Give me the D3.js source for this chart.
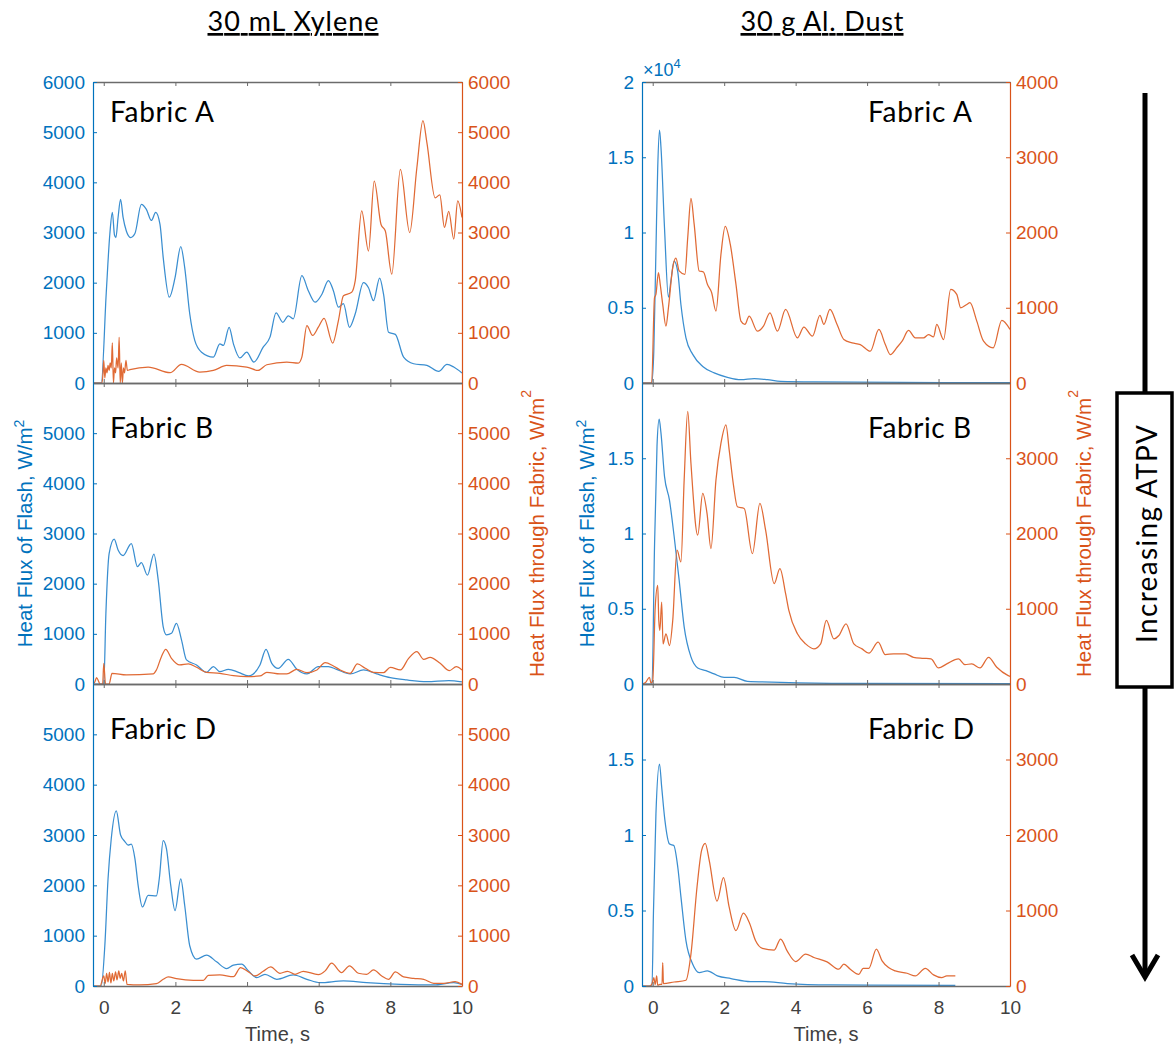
<!DOCTYPE html>
<html><head><meta charset="utf-8">
<script src="https://cdn.jsdelivr.net/npm/d3@7"></script>
<style>body{margin:0;background:#fff}</style>
</head><body>
<svg id="c" width="1175" height="1052" xmlns="http://www.w3.org/2000/svg"></svg>
<script>
// ---------------- DATA ([time s, W/m^2]) ----------------
const columnTitles = ["30 mL Xylene", "30 g Al. Dust"];
const fabricLabels = ["Fabric A", "Fabric B", "Fabric D"];
const timeTicks = [0, 2, 4, 6, 8, 10];
const xyleneTicksTop = [0, 1000, 2000, 3000, 4000, 5000, 6000];
const xyleneTicks = [0, 1000, 2000, 3000, 4000, 5000];
const dustFlashTicksTop = [0, 5000, 10000, 15000, 20000];
const dustFlashTicks = [0, 5000, 10000, 15000];
const dustFabricTicksTop = [0, 1000, 2000, 3000, 4000];
const dustFabricTicks = [0, 1000, 2000, 3000];

const xyleneA_flash = [[-0.3,0],[-0.07,0],[0.07,1800],[0.17,2970],[0.24,3400],[0.3,2950],[0.34,2900],[0.4,3300],[0.47,3660],[0.54,3300],[0.63,3030],[0.75,2900],[0.87,2980],[1.05,3560],[1.19,3460],[1.33,3240],[1.45,3400],[1.57,3160],[1.66,2500],[1.83,1710],[1.99,2100],[2.15,2720],[2.26,2300],[2.40,1380],[2.54,850],[2.73,615],[3.06,516],[3.24,780],[3.34,750],[3.50,1110],[3.62,780],[3.80,500],[3.99,615],[4.19,417],[4.45,715],[4.64,914],[4.81,1400],[5.00,1210],[5.15,1340],[5.29,1280],[5.53,2140],[5.71,1840],[5.90,1610],[6.09,1770],[6.27,2040],[6.41,1840],[6.55,1510],[6.69,1580],[6.86,1110],[7.02,1380],[7.25,2000],[7.39,1900],[7.53,1640],[7.70,2090],[7.81,1770],[7.95,1010],[8.14,970],[8.37,516],[8.65,384],[9.02,350],[9.35,230],[9.58,370],[9.77,318],[10,200]];
const xyleneA_fabric = [[-0.3,0],[-0.05,0],[-0.02,200],[0.0,450],[0.03,100],[0.06,300],[0.09,200],[0.12,350],[0.15,250],[0.18,400],[0.21,300],[0.24,800],[0.27,0],[0.3,300],[0.33,200],[0.36,500],[0.4,300],[0.43,910],[0.46,0],[0.49,400],[0.52,0],[0.55,300],[0.58,200],[0.62,450],[0.66,250],[0.73,265],[1.24,318],[1.85,205],[2.17,370],[2.68,218],[3.06,250],[3.43,350],[3.99,318],[4.31,250],[4.55,364],[5.11,417],[5.43,397],[5.53,516],[5.67,1145],[5.83,947],[5.99,1112],[6.15,1290],[6.39,794],[6.55,1245],[6.69,1740],[6.92,1807],[7.02,2040],[7.20,3430],[7.39,2630],[7.55,4025],[7.74,3160],[7.86,3030],[8.04,2170],[8.28,4256],[8.54,3000],[8.74,4290],[8.91,5230],[9.02,4790],[9.25,3690],[9.38,3750],[9.51,3100],[9.63,3420],[9.77,2870],[9.88,3630],[10,3300]];

const xyleneB_flash = [[-0.3,0],[0.0,0],[0.06,1410],[0.15,2600],[0.29,2890],[0.40,2670],[0.54,2560],[0.77,2800],[0.94,2340],[1.05,2420],[1.22,2170],[1.40,2590],[1.52,2075],[1.66,1140],[1.75,980],[1.89,1010],[2.03,1210],[2.17,880],[2.31,480],[2.59,380],[2.87,233],[3.06,346],[3.24,246],[3.48,293],[3.76,233],[4.04,160],[4.36,380],[4.53,690],[4.69,412],[4.87,313],[5.15,492],[5.39,293],[5.67,200],[5.99,346],[6.27,346],[6.50,293],[6.88,200],[7.25,280],[7.62,200],[8.0,126],[8.46,80],[9.02,47],[9.63,67],[10,40]];
const xyleneB_fabric = [[-0.3,0],[-0.25,40],[-0.2,126],[-0.1,0],[-0.03,0],[0.0,410],[0.05,0],[0.15,0],[0.23,213],[0.63,180],[1.38,200],[1.47,280],[1.61,545],[1.73,690],[1.89,512],[2.12,380],[2.36,400],[2.59,333],[2.87,233],[3.24,213],[3.62,166],[4.0,146],[4.36,160],[4.55,233],[4.92,200],[5.11,200],[5.39,293],[5.67,226],[5.95,280],[6.18,426],[6.41,360],[6.60,280],[6.88,213],[7.08,400],[7.30,313],[7.53,233],[7.81,226],[8.0,333],[8.28,280],[8.51,512],[8.74,645],[8.93,492],[9.11,532],[9.39,412],[9.65,266],[9.84,346],[10,280]];

const xyleneD_flash = [[-0.3,0],[-0.07,0],[0.03,800],[0.12,2130],[0.21,2930],[0.35,3480],[0.47,3000],[0.59,2870],[0.68,2800],[0.77,2820],[0.87,2530],[0.96,2000],[1.08,1570],[1.24,1800],[1.47,1790],[1.55,2130],[1.66,2890],[1.75,2730],[1.87,2000],[1.99,1500],[2.15,2130],[2.26,1600],[2.40,800],[2.59,533],[2.87,613],[3.15,480],[3.43,346],[3.62,413],[3.85,433],[4.04,300],[4.27,166],[4.50,233],[4.83,133],[5.29,220],[5.67,133],[6.04,66],[6.69,100],[7.34,66],[8.28,33],[9.21,20],[9.77,66],[10,33]];
const xyleneD_fabric = [[-0.3,0],[-0.1,0],[0.0,200],[0.04,50],[0.08,250],[0.12,80],[0.16,270],[0.2,60],[0.24,250],[0.28,100],[0.33,280],[0.37,120],[0.42,300],[0.46,150],[0.5,250],[0.55,100],[0.6,300],[0.65,30],[1.0,20],[1.47,46],[1.66,133],[1.80,180],[2.03,146],[2.50,113],[2.78,113],[2.92,213],[3.24,220],[3.62,186],[3.82,366],[4.04,280],[4.22,200],[4.45,293],[4.66,380],[4.92,253],[5.13,293],[5.34,233],[5.57,293],[5.99,226],[6.18,300],[6.36,453],[6.64,266],[6.86,400],[7.11,253],[7.34,233],[7.53,320],[7.76,200],[7.95,133],[8.14,280],[8.37,180],[8.65,153],[8.93,133],[9.21,53],[9.49,53],[9.81,86],[10,33]];

const dustA_flash = [[-0.3,0],[-0.03,0],[0.03,2100],[0.09,8800],[0.14,14300],[0.19,16800],[0.23,15700],[0.33,10300],[0.44,5700],[0.51,6800],[0.60,8100],[0.70,7400],[0.79,5200],[0.93,3000],[1.12,1900],[1.40,1100],[1.72,670],[2.09,380],[2.47,220],[2.84,290],[3.21,220],[3.58,110],[4.5,70],[10,20]];
const dustA_fabric = [[-0.3,0],[-0.03,0],[0.05,1133],[0.09,1178],[0.16,1467],[0.21,1311],[0.28,1044],[0.37,755],[0.44,1000],[0.56,1533],[0.65,1658],[0.74,1489],[0.9,1444],[0.98,1933],[1.07,2453],[1.16,2111],[1.30,1489],[1.42,1475],[1.53,1311],[1.65,1200],[1.77,955],[1.91,1711],[2.03,2080],[2.17,1844],[2.33,1311],[2.47,822],[2.58,778],[2.70,889],[2.93,689],[3.1,755],[3.28,933],[3.49,689],[3.72,978],[4.05,600],[4.23,742],[4.47,622],[4.68,898],[4.79,778],[4.96,978],[5.16,778],[5.35,578],[5.58,533],[5.81,511],[6.09,422],[6.33,711],[6.51,511],[6.65,378],[6.84,475],[6.98,555],[7.16,698],[7.35,600],[7.58,600],[7.72,644],[7.86,613],[7.95,778],[8.14,578],[8.34,1244],[8.51,1178],[8.62,1000],[8.79,1044],[8.88,1067],[9.07,822],[9.26,555],[9.53,467],[9.77,831],[10,711]];

const dustB_flash = [[-0.3,0],[-0.02,0],[0.05,9100],[0.12,15800],[0.18,17600],[0.23,16700],[0.33,13800],[0.47,12200],[0.60,9800],[0.74,6900],[0.88,3800],[1.07,1800],[1.26,1070],[1.49,890],[1.72,670],[2.0,440],[2.28,440],[2.65,180],[3.58,110],[5.44,40],[10,20]];
const dustB_fabric = [[-0.3,0],[-0.2,20],[-0.09,89],[-0.05,10],[0.0,44],[0.07,1022],[0.14,1311],[0.17,844],[0.2,711],[0.25,1089],[0.29,533],[0.37,667],[0.47,511],[0.56,844],[0.68,1778],[0.79,1622],[0.88,2711],[0.98,3622],[1.07,2933],[1.26,1978],[1.40,2533],[1.52,2267],[1.63,1800],[1.77,2711],[1.91,3200],[2.05,3444],[2.14,3111],[2.26,2644],[2.37,2355],[2.56,2333],[2.79,1733],[3.0,2400],[3.16,2044],[3.40,1333],[3.56,1533],[3.72,1200],[3.81,978],[4.05,667],[4.28,533],[4.51,467],[4.70,533],[4.86,844],[5.07,600],[5.21,644],[5.41,800],[5.63,533],[5.86,467],[6.05,409],[6.31,555],[6.51,391],[6.74,400],[7.07,400],[7.30,355],[7.58,342],[7.79,333],[8.0,213],[8.23,267],[8.56,333],[8.74,258],[8.93,267],[9.16,213],[9.40,355],[9.63,222],[9.95,111],[10,100]];

const dustD_flash = [[-0.3,0],[-0.02,0],[0.02,4800],[0.09,11400],[0.19,14700],[0.25,13200],[0.34,11000],[0.47,9400],[0.59,9300],[0.70,7900],[0.79,5900],[0.93,3000],[1.12,1440],[1.30,890],[1.53,1000],[1.81,670],[2.19,490],[2.74,290],[3.12,290],[3.77,160],[4.98,70],[8.47,40]];
const dustD_fabric = [[-0.3,0],[-0.09,0],[-0.02,30],[0.03,110],[0.07,20],[0.11,133],[0.14,10],[0.2,20],[0.26,20],[0.28,311],[0.30,30],[0.6,53],[0.93,76],[1.07,422],[1.24,1311],[1.37,1800],[1.47,1889],[1.58,1667],[1.80,1124],[1.98,1435],[2.14,1044],[2.33,733],[2.54,964],[2.70,844],[2.88,600],[3.07,498],[3.40,475],[3.58,622],[3.77,458],[4.0,324],[4.28,422],[4.51,378],[4.88,320],[5.21,222],[5.35,289],[5.53,222],[5.77,155],[5.89,235],[6.05,235],[6.26,489],[6.42,333],[6.60,244],[6.79,200],[7.12,169],[7.35,133],[7.63,235],[7.86,147],[8.09,111],[8.23,133],[8.47,133]];

// ---------------- LAYOUT ----------------
const BLUE = "#0072BD", ORANGE = "#D95319";
const LINE_BLUE = "#3a8ed0", LINE_ORANGE = "#e06a35";
const AXIS_GRAY = "#6b6b6b";
const rowTops = [82, 383, 684];
const rowBottoms = [383, 684, 986];
const fabricBaselines = [122, 438, 739];
const fabricWidths = [104, 103, 106];

const columns = [
  { x0: 93, x1: 462, flashMax: 6000, fabricMax: 6000, titleX: 293, titleW: 171, fabricX: 110,
    flashFmt: d => d, fabricFmt: d => d,
    flashTicks: [xyleneTicksTop, xyleneTicks, xyleneTicks], fabricTicks: [xyleneTicksTop, xyleneTicks, xyleneTicks],
    series: [[xyleneA_flash, xyleneA_fabric], [xyleneB_flash, xyleneB_fabric], [xyleneD_flash, xyleneD_fabric]],
    blueLabelX: 32, orangeLabelX: 529 },
  { x0: 642, x1: 1010, flashMax: 20000, fabricMax: 4000, titleX: 822, titleW: 163, fabricX: 868,
    flashFmt: d => d / 1e4, fabricFmt: d => d,
    flashTicks: [dustFlashTicksTop, dustFlashTicks, dustFlashTicks], fabricTicks: [dustFabricTicksTop, dustFabricTicks, dustFabricTicks],
    series: [[dustA_flash, dustA_fabric], [dustB_flash, dustB_fabric], [dustD_flash, dustD_fabric]],
    blueLabelX: 594, orangeLabelX: 1076 }
];

const svg = d3.select("#c");
const TICK_FONT = "'Liberation Sans', Arial, sans-serif";
const CAL_FONT = "Lato, 'Open Sans', sans-serif";

const defs = svg.append("defs");

columns.forEach((col, ci) => {
  const x = d3.scaleLinear().domain([-0.3, 10]).range([col.x0, col.x1]);

  // Column title with underline
  svg.append("text").attr("x", col.titleX).attr("y", 31)
    .attr("text-anchor", "middle").attr("font-family", CAL_FONT).attr("font-size", 27)
    .attr("textLength", col.titleW).attr("lengthAdjust", "spacing")
    .attr("fill", "#000").attr("text-decoration", "underline").text(columnTitles[ci]);

  rowTops.forEach((top, ri) => {
    const bottom = rowBottoms[ri];
    const yL = d3.scaleLinear().domain([0, col.flashMax]).range([bottom, top]);
    const yR = d3.scaleLinear().domain([0, col.fabricMax]).range([bottom, top]);
    const g = svg.append("g");
    const clipId = `clip${ci}${ri}`;
    defs.append("clipPath").attr("id", clipId).append("rect")
      .attr("x", col.x0).attr("y", top - 1).attr("width", col.x1 - col.x0).attr("height", bottom - top + 1);

    const [flash, fabric] = col.series[ri];
    const line = (ys) => d3.line().x(d => x(d[0])).y(d => ys(d[1])).curve(d3.curveMonotoneX);

    g.append("path").datum(flash).attr("clip-path", `url(#${clipId})`)
      .attr("d", line(yL)).attr("fill", "none").attr("stroke", LINE_BLUE).attr("stroke-width", 1.25);
    g.append("path").datum(fabric).attr("clip-path", `url(#${clipId})`)
      .attr("d", line(yR)).attr("fill", "none").attr("stroke", LINE_ORANGE).attr("stroke-width", 1.25);

    // top & bottom x axes
    const xb = g.append("g").attr("transform", `translate(0,${bottom})`)
      .call(d3.axisBottom(x).tickValues(timeTicks).tickSizeInner(-4).tickSizeOuter(0).tickPadding(15)
        .tickFormat(ri === 2 ? d3.format("d") : () => ""));
    const xt = g.append("g").attr("transform", `translate(0,${top})`)
      .call(d3.axisTop(x).tickValues(timeTicks).tickSizeInner(-4).tickSizeOuter(0).tickFormat(() => ""));
    [xb, xt].forEach(a => {
      a.select(".domain").attr("stroke", AXIS_GRAY).attr("stroke-width", 1.6);
      a.selectAll(".tick line").attr("stroke", AXIS_GRAY);
      a.selectAll("text").attr("font-family", TICK_FONT).attr("font-size", 19).attr("fill", "#404040");
    });

    // left axis
    const al = g.append("g").attr("transform", `translate(${col.x0},0)`)
      .call(d3.axisLeft(yL).tickValues(col.flashTicks[ri]).tickSizeInner(-4).tickSizeOuter(0).tickPadding(8)
        .tickFormat(col.flashFmt));
    al.select(".domain").attr("stroke", BLUE).attr("stroke-width", 1.2);
    al.selectAll(".tick line").attr("stroke", BLUE);
    al.selectAll("text").attr("font-family", TICK_FONT).attr("font-size", 19).attr("fill", BLUE);

    // right axis
    const ar = g.append("g").attr("transform", `translate(${col.x1},0)`)
      .call(d3.axisRight(yR).tickValues(col.fabricTicks[ri]).tickSizeInner(-4).tickSizeOuter(0).tickPadding(6)
        .tickFormat(col.fabricFmt));
    ar.select(".domain").attr("stroke", ORANGE).attr("stroke-width", 1.2);
    ar.selectAll(".tick line").attr("stroke", ORANGE);
    ar.selectAll("text").attr("font-family", TICK_FONT).attr("font-size", 19).attr("fill", ORANGE);

    // Fabric label
    svg.append("text").attr("x", col.fabricX).attr("y", fabricBaselines[ri])
      .attr("font-family", CAL_FONT).attr("font-size", 28)
      .attr("textLength", fabricWidths[ri]).attr("lengthAdjust", "spacing")
      .attr("fill", "#000").text(fabricLabels[ri]);
  });

  // x axis label
  svg.append("text").attr("x", (col.x0 + col.x1) / 2).attr("y", 1041).attr("text-anchor", "middle")
    .attr("font-family", TICK_FONT).attr("font-size", 20).attr("fill", "#404040").text("Time, s");

  // y axis labels
  const mid = (rowTops[1] + rowBottoms[1]) / 2;
  const bl = svg.append("text").attr("transform", `translate(${col.blueLabelX},${mid}) rotate(-90)`)
    .attr("text-anchor", "middle").attr("font-family", TICK_FONT).attr("font-size", 20.5).attr("fill", BLUE);
  bl.append("tspan").text("Heat Flux of Flash, W/m");
  bl.append("tspan").attr("dy", -8).attr("font-size", 14).text("2");
  const ol = svg.append("text").attr("transform", `translate(${col.orangeLabelX},${mid}) rotate(-90)`)
    .attr("text-anchor", "middle").attr("font-family", TICK_FONT).attr("font-size", 20.5).attr("fill", ORANGE)
    .attr("dominant-baseline", "hanging");
  ol.append("tspan").text("Heat Flux through Fabric, W/m");
  ol.append("tspan").attr("dy", -8).attr("font-size", 14).text("2");
});

// x10^4 multiplier
const mult = svg.append("text").attr("x", 643).attr("y", 76).attr("font-family", TICK_FONT)
  .attr("font-size", 18).attr("fill", BLUE);
mult.append("tspan").text("×10");
mult.append("tspan").attr("dy", -8).attr("font-size", 13).text("4");

// Increasing ATPV arrow
const ag = svg.append("g");
ag.append("line").attr("x1", 1145).attr("x2", 1145).attr("y1", 93).attr("y2", 393)
  .attr("stroke", "#000").attr("stroke-width", 5);
ag.append("rect").attr("x", 1117).attr("y", 393).attr("width", 55).attr("height", 294)
  .attr("fill", "#fff").attr("stroke", "#000").attr("stroke-width", 3.5);
ag.append("line").attr("x1", 1145).attr("x2", 1145).attr("y1", 687).attr("y2", 976)
  .attr("stroke", "#000").attr("stroke-width", 5);
ag.append("polyline").attr("points", "1132,955 1145,977 1158,955")
  .attr("fill", "none").attr("stroke", "#000").attr("stroke-width", 5).attr("stroke-linejoin", "miter");
ag.append("text").attr("transform", "translate(1157,534) rotate(-90)").attr("text-anchor", "middle")
  .attr("font-family", CAL_FONT).attr("font-size", 28)
  .attr("textLength", 218).attr("lengthAdjust", "spacing")
  .attr("fill", "#000").text("Increasing ATPV");
</script>
</body></html>
